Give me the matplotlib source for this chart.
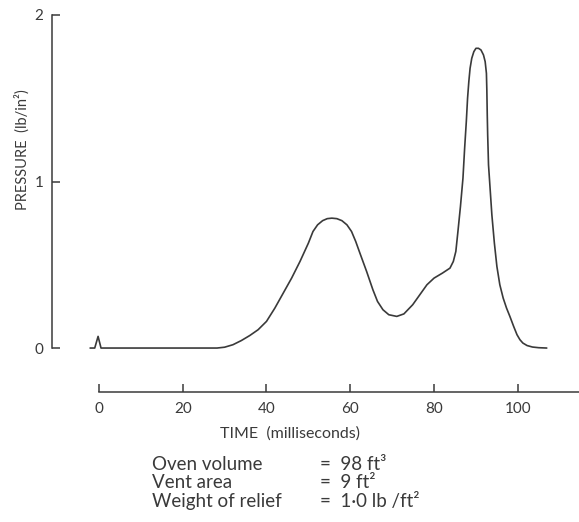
import matplotlib
matplotlib.use("Agg")
import matplotlib.pyplot as plt

plt.rcParams["font.family"] = ["Lato", "DejaVu Sans"]

# Pressure trace (time in ms, pressure in lb/in^2)
time_ms = [
    -2.1, -1.0, -0.2, 0.5, 5.0, 15.0, 25.0, 28.2, 30.0, 32.0, 34.0, 36.0,
    38.0, 40.0, 42.0, 44.0, 46.0, 48.0, 50.0, 51.1, 52.2, 53.4, 54.5, 55.6,
    56.8, 58.0, 59.2, 60.3, 61.3, 62.3, 63.9, 65.4, 66.5, 67.8, 69.2, 71.1,
    72.8, 74.9, 76.6, 78.3, 80.0, 82.0, 83.8, 84.6, 85.2, 85.7, 86.3, 86.9,
    87.3, 87.7, 88.0, 88.3, 88.6, 89.0, 89.5, 90.0, 90.6, 91.2, 91.8, 92.2,
    92.5, 92.6, 92.7, 92.8, 93.0, 93.4, 93.8, 94.4, 95.0, 95.7, 96.5, 97.3,
    98.1, 99.0, 99.8, 100.5, 101.2, 102.2, 103.5, 105.0, 106.9,
]
pressure = [
    0.0, 0.0, 0.07, 0.0, 0.0, 0.0, 0.0, 0.0, 0.005, 0.02, 0.045, 0.075,
    0.11, 0.16, 0.24, 0.33, 0.42, 0.52, 0.63, 0.70, 0.74, 0.765, 0.777, 0.78,
    0.777, 0.765, 0.74, 0.70, 0.64, 0.57, 0.46, 0.35, 0.28, 0.23, 0.20, 0.19,
    0.205, 0.26, 0.32, 0.38, 0.42, 0.45, 0.48, 0.52, 0.58, 0.70, 0.85, 1.02,
    1.20, 1.36, 1.50, 1.60, 1.68, 1.74, 1.78, 1.80, 1.80, 1.79, 1.76, 1.72,
    1.65, 1.55, 1.40, 1.28, 1.10, 0.95, 0.80, 0.63, 0.49, 0.38, 0.30, 0.24,
    0.19, 0.13, 0.08, 0.05, 0.03, 0.015, 0.006, 0.002, 0.0,
]

x_ticks = [0, 20, 40, 60, 80, 100]
x_tick_labels = ["0", "20", "40", "60", "80", "100"]
y_ticks = [0, 1, 2]
y_tick_labels = ["0", "1", "2"]

note_names = ["Oven volume", "Vent area", "Weight of relief"]
note_values = ["=  98 ft³", "=  9 ft²", "=  1·0 lb /ft²"]

ink = "#3a3a3a"

fig = plt.figure(figsize=(5.79, 5.22), dpi=100)
ax = fig.add_axes([52 / 579, 1 - 392 / 522, 1 - 52 / 579, (392 - 15) / 522])

ax.plot(time_ms, pressure, color=ink, lw=1.2, solid_capstyle="round",
        solid_joinstyle="round")

ax.set_xlim(-11.2, 114.6)
ax.set_ylim(-0.264, 2.0)

for side in ["top", "right"]:
    ax.spines[side].set_visible(False)
ax.spines["left"].set_bounds(0, 2)
ax.spines["bottom"].set_bounds(0, 114.6)
for side in ["left", "bottom"]:
    ax.spines[side].set_color(ink)
    ax.spines[side].set_linewidth(1.1)

ax.set_xticks(x_ticks)
ax.set_xticklabels(x_tick_labels)
ax.set_yticks(y_ticks)
ax.set_yticklabels(y_tick_labels)
ax.tick_params(axis="both", direction="in", length=6, width=1.1, color=ink,
               labelcolor=ink, labelsize=11)
ax.tick_params(axis="x", pad=7)
ax.tick_params(axis="y", pad=6)

# axis titles placed by hand, as in the original drawing
fig.text(22 / 579, 1 - 150 / 522, "PRESSURE  (lb/in²)", rotation=90,
         ha="center", va="center", fontsize=10.5, color=ink)
fig.text(290 / 579, 1 - 434 / 522, "TIME  (milliseconds)", ha="center",
         va="center", fontsize=11.5, color=ink)

for i, (name, value) in enumerate(zip(note_names, note_values)):
    y = 1 - (470 + i * 18.5) / 522
    fig.text(152 / 579, y, name, ha="left", va="baseline", fontsize=13.5,
             color=ink)
    fig.text(320 / 579, y, value, ha="left", va="baseline", fontsize=13.5,
             color=ink)

fig.savefig("out.png", dpi=100)
